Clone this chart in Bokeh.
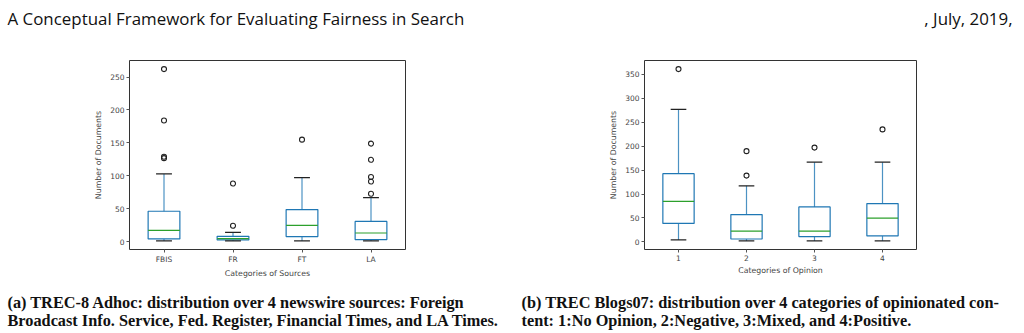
from bokeh.plotting import figure
from bokeh.layouts import column, row
from bokeh.models import FixedTicker, ColumnDataSource, Range1d
from bokeh.embed import file_html
from bokeh.resources import INLINE
from bokeh.core.properties import value

# ---------------- data ----------------
# (a) TREC-8 Adhoc: sources
src_cats = ["FBIS", "FR", "FT", "LA"]
src_whislo = [1.5, 1.5, 1.5, 1.5]
src_q1 = [4.5, 3.0, 8.0, 3.5]
src_med = [17.5, 5.0, 25.0, 13.5]
src_q3 = [46.5, 8.5, 49.0, 31.0]
src_whishi = [103.0, 14.5, 97.5, 67.0]
src_out_cat = ["FBIS", "FBIS", "FBIS", "FBIS", "FR", "FR", "FT",
               "LA", "LA", "LA", "LA", "LA"]
src_out_val = [262, 184, 129, 127, 24.5, 88.5, 155,
               73, 91.5, 98.5, 124.5, 149]
src_yticks = [0, 50, 100, 150, 200, 250]

# (b) TREC Blogs07: opinion categories
op_cats = ["1", "2", "3", "4"]
op_whislo = [4.0, 2.0, 2.0, 2.0]
op_q1 = [38.5, 6.0, 11.0, 12.5]
op_med = [84.5, 22.5, 22.5, 49.5]
op_q3 = [142.5, 57.0, 73.0, 80.0]
op_whishi = [277.0, 117.0, 166.5, 166.5]
op_out_cat = ["1", "2", "2", "3", "4"]
op_out_val = [361, 138.5, 189.5, 197, 235]
op_yticks = [0, 50, 100, 150, 200, 250, 300, 350]

header_left = "A Conceptual Framework for Evaluating Fairness in Search"
header_right = ", July, 2019,"
cap_a = ["(a) TREC-8 Adhoc: distribution over 4 newswire sources: Foreign",
         "Broadcast Info. Service, Fed. Register, Financial Times, and LA Times."]
cap_b = ["(b) TREC Blogs07: distribution over 4 categories of opinionated con-",
         "tent: 1:No Opinion, 2:Negative, 3:Mixed, and 4:Positive."]

BLUE = "#1f77b4"
GREEN = "#2ca02c"
FONT = "DejaVu Sans"


def box_figure(cats, whislo, q1, med, q3, whishi, out_cat, out_val, yticks,
               xlabel, ylabel, width, bl, br):
    n = len(cats)
    pos = {c: i + 1 for i, c in enumerate(cats)}
    xs = [pos[c] for c in cats]
    bw = 0.46
    cw = bw / 2
    lo = min(whislo + out_val)
    hi = max(whishi + out_val)
    pad = 0.05 * (hi - lo)
    p = figure(width=width, height=250, output_backend="svg", toolbar_location=None,
               x_range=Range1d(0.5, n + 0.5), y_range=Range1d(lo - pad, hi + pad),
               min_border_left=bl, min_border_right=br, min_border_top=30,
               min_border_bottom=29)
    box = ColumnDataSource(dict(
        x=xs, l=[x - bw / 2 for x in xs], r=[x + bw / 2 for x in xs],
        cl=[x - cw / 2 for x in xs], cr=[x + cw / 2 for x in xs],
        whislo=whislo, q1=q1, med=med, q3=q3, whishi=whishi))
    p.segment(x0="x", x1="x", y0="q3", y1="whishi", source=box, line_color=BLUE,
              line_width=1.2, line_alpha=0.8)
    p.segment(x0="x", x1="x", y0="q1", y1="whislo", source=box, line_color=BLUE,
              line_width=1.2, line_alpha=0.8)
    p.quad(left="l", right="r", bottom="q1", top="q3", source=box,
           fill_alpha=0, line_color=BLUE, line_width=1.2)
    p.segment(x0="l", x1="r", y0="med", y1="med", source=box, line_color=GREEN, line_width=1.2)
    p.segment(x0="cl", x1="cr", y0="whishi", y1="whishi", source=box, line_color="#222222", line_width=1.2)
    p.segment(x0="cl", x1="cr", y0="whislo", y1="whislo", source=box, line_color="#222222", line_width=1.2)
    out = ColumnDataSource(dict(x=[pos[c] for c in out_cat], y=out_val))
    p.scatter(x="x", y="y", source=out, marker="circle", size=5,
              fill_color=None, line_color="#222222", line_width=1.1)

    p.xaxis.ticker = FixedTicker(ticks=xs)
    p.xaxis.major_label_overrides = {x: c for x, c in zip(xs, cats)}
    p.yaxis.ticker = FixedTicker(ticks=yticks)
    p.xaxis.axis_label = xlabel
    p.yaxis.axis_label = ylabel
    for ax in (p.xaxis, p.yaxis):
        ax.axis_line_color = None
        ax.major_tick_out = 3
        ax.major_tick_in = 0
        ax.minor_tick_line_color = None
        ax.major_tick_line_color = "#555555"
        ax.major_label_text_font = FONT
        ax.major_label_text_font_size = "7.5px"
        ax.major_label_text_color = "#444444"
        ax.major_label_standoff = 2
        ax.axis_label_text_font = FONT
        ax.axis_label_text_font_size = "7.8px"
        ax.axis_label_text_font_style = "normal"
        ax.axis_label_text_color = "#444444"
    p.xaxis.axis_label_standoff = 2
    p.yaxis.axis_label_standoff = 4
    p.grid.visible = False
    p.outline_line_color = "#333333"
    p.outline_line_width = 1
    return p


pa = box_figure(src_cats, src_whislo, src_q1, src_med, src_q3, src_whishi,
                src_out_cat, src_out_val, src_yticks,
                "Categories of Sources", "Number of Documents", 512, 129, 107)
pb = box_figure(op_cats, op_whislo, op_q1, op_med, op_q3, op_whishi,
                op_out_cat, op_out_val, op_yticks,
                "Categories of Opinion", "Number of Documents", 512, 132, 108)


def text_fig(h, y0, y1):
    f = figure(width=1024, height=h, output_backend="svg", toolbar_location=None,
               x_range=Range1d(0, 1024), y_range=Range1d(y1, y0),
               min_border=0)
    f.axis.visible = False
    f.grid.visible = False
    f.outline_line_color = None
    return f


hdr = text_fig(30, 0, 30)
hdr.text(x=[7], y=[18], text=[header_left], text_font=value("Open Sans"),
         text_font_size="16.9px", text_color="#111111", text_baseline="alphabetic")
hdr.text(x=[1012], y=[18], text=[header_right], text_font=value("Open Sans"),
         text_font_size="16.9px", text_color="#111111", text_baseline="alphabetic",
         text_align="right")

cap = text_fig(53, 280, 333)
for i, line in enumerate(cap_a):
    cap.text(x=[7], y=[302 + 18 * i], text=[line], text_font=value("Liberation Serif"),
             text_font_size="16.3px", text_font_style="bold", text_color="#111111",
             text_baseline="alphabetic")
for i, line in enumerate(cap_b):
    cap.text(x=[521], y=[302 + 18 * i], text=[line], text_font=value("Liberation Serif"),
             text_font_size="16.3px", text_font_style="bold", text_color="#111111",
             text_baseline="alphabetic")

layout = column(hdr, row(pa, pb, spacing=0), cap, spacing=0)
open("out.html", "w").write(file_html(layout, INLINE))
